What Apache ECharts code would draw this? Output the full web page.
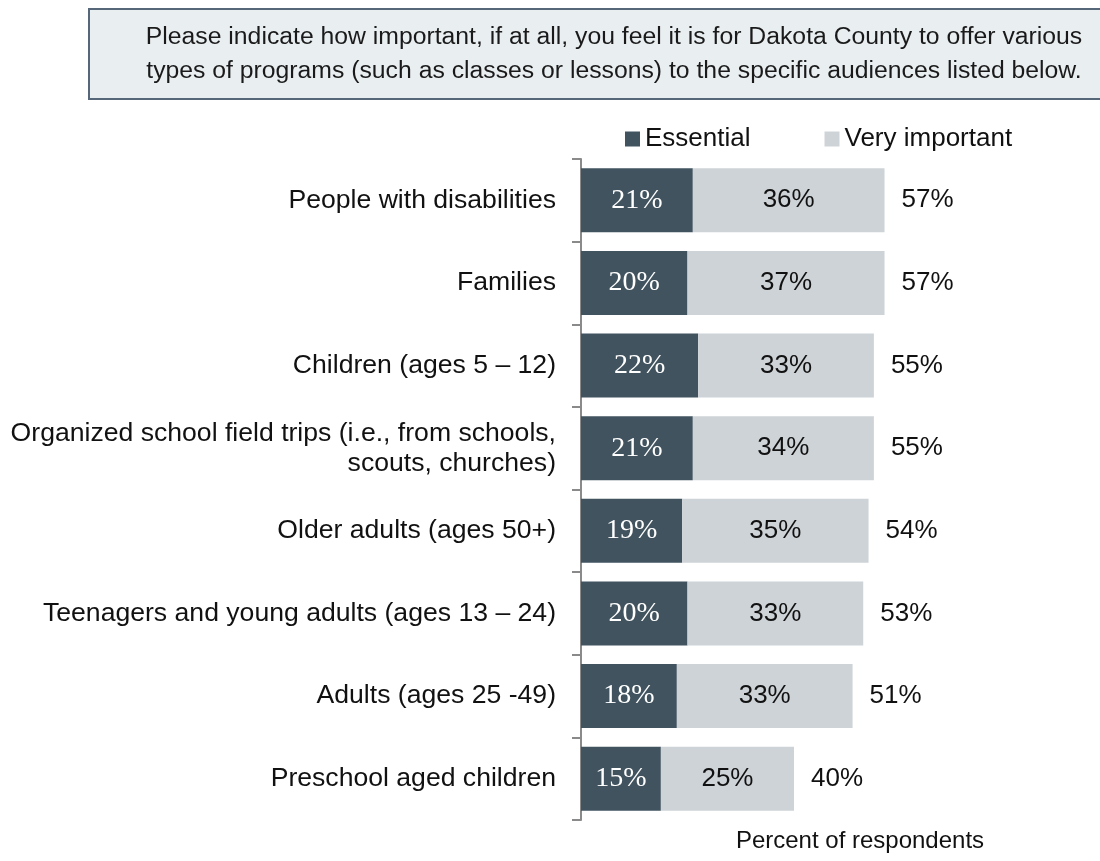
<!DOCTYPE html>
<html>
<head>
<meta charset="utf-8">
<script src="https://cdn.jsdelivr.net/npm/echarts@6/dist/echarts.min.js"></script>
<style>html,body{margin:0;padding:0;background:#fff}#c{width:1100px;height:861px}</style>
</head>
<body>
<div id="c"></div>
<script>
const categories = [
  'People with disabilities',
  'Families',
  'Children (ages 5 \u2013 12)',
  'Organized school field trips (i.e., from schools,\nscouts, churches)',
  'Older adults (ages 50+)',
  'Teenagers and young adults (ages 13 \u2013 24)',
  'Adults (ages 25 -49)',
  'Preschool aged children'
];
const essential = [21, 20, 22, 21, 19, 20, 18, 15];
const veryImportant = [36, 37, 33, 34, 35, 33, 33, 25];
const totals = [57, 57, 55, 55, 54, 53, 51, 40];
const seriesNames = ['Essential', 'Very important'];
const titleLines = [
  'Please indicate how important, if at all, you feel it is for Dakota County to offer various',
  'types of programs (such as classes or lessons) to the specific audiences listed below.'
];
const axisTitle = 'Percent of respondents';

const SANS = '"Liberation Sans", Arial, sans-serif';
const chart = echarts.init(document.getElementById('c'), null, {renderer: 'canvas'});
const option = {
  animation: false,
  backgroundColor: '#ffffff',
  textStyle: {fontFamily: SANS},
  graphic: [
    {type: 'rect', shape: {x: 89, y: 9, width: 1040, height: 90},
     style: {fill: '#E9EEF1', stroke: '#56677A', lineWidth: 2}},
    {type: 'text', x: 614, y: 20,
     style: {text: titleLines.join('\n'), fill: '#1a1a1a', font: '24.75px ' + SANS,
             align: 'center', verticalAlign: 'top', lineHeight: 34}},
    {type: 'text', x: 860, y: 841,
     style: {text: axisTitle, fill: '#111', font: '24px ' + SANS,
             align: 'center', verticalAlign: 'middle'}}
  ],
  legend: {
    data: seriesNames,
    left: 620, top: 121,
    itemWidth: 15, itemHeight: 15, itemGap: 74,
    icon: 'rect',
    textStyle: {fontSize: 26, color: '#111', fontFamily: SANS}
  },
  grid: {left: 581, top: 159, height: 661, right: 93, containLabel: false},
  xAxis: {type: 'value', min: 0, max: 80, show: false},
  yAxis: {
    type: 'category', data: categories, inverse: true,
    axisLine: {show: true, lineStyle: {color: '#8a8a8a', width: 2}},
    axisTick: {show: true, length: 9, lineStyle: {color: '#8a8a8a', width: 2}},
    axisLabel: {fontSize: 26.6, color: '#111', margin: 25, align: 'right', lineHeight: 30,
                fontFamily: SANS}
  },
  series: [
    {name: 'Total', type: 'bar', data: totals, barCategoryGap: '22.5%', barGap: '-100%',
     itemStyle: {color: 'rgba(0,0,0,0)'}, silent: true, z: 1,
     label: {show: true, position: 'right', distance: 17, formatter: '{c}%', fontSize: 26, color: '#111',
             fontFamily: SANS}},
    {name: seriesNames[0], type: 'bar', stack: 's', data: essential, barCategoryGap: '22.5%', barGap: '-100%',
     itemStyle: {color: '#41535F'}, z: 3,
     label: {show: true, position: 'inside', formatter: '{c}%', fontSize: 28, color: '#ffffff',
             fontFamily: '"Liberation Serif", "Times New Roman", serif'}},
    {name: seriesNames[1], type: 'bar', stack: 's', data: veryImportant, barCategoryGap: '22.5%', barGap: '-100%',
     itemStyle: {color: '#CED3D7'}, z: 3,
     label: {show: true, position: 'inside', formatter: '{c}%', fontSize: 26, color: '#111',
             fontFamily: SANS}}
  ]
};
chart.setOption(option);
</script>
</body>
</html>
